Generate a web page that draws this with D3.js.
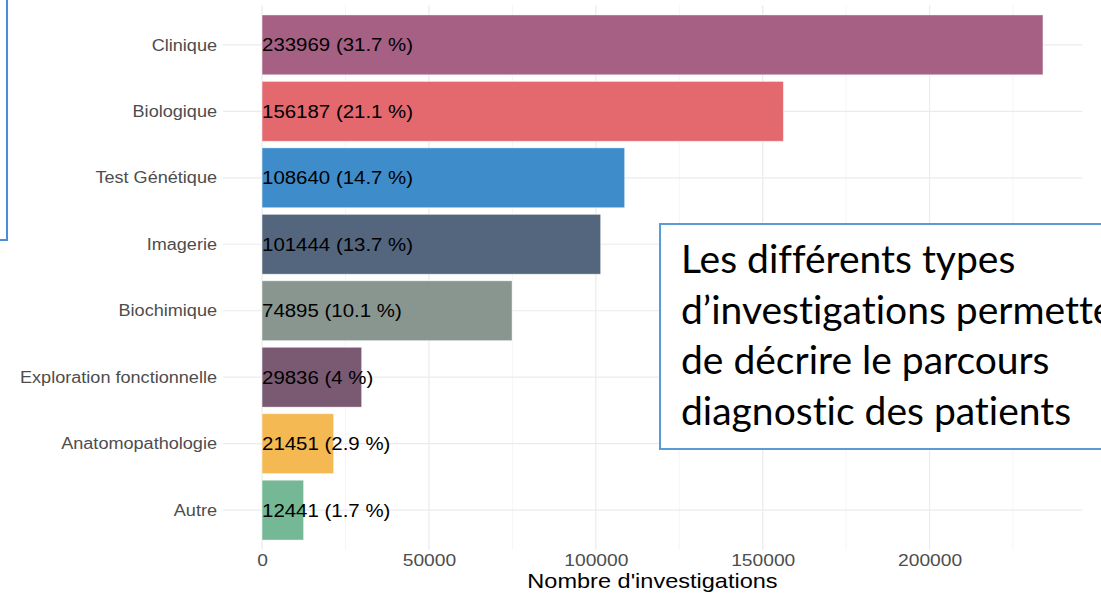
<!DOCTYPE html>
<html>
<head>
<meta charset="utf-8">
<script src="https://cdn.jsdelivr.net/npm/d3@7"></script>
<style>
  html, body { margin: 0; padding: 0; background: #fff; overflow: hidden; }
  svg { display: block; }
</style>
</head>
<body>
<div id="chart"></div>
<script>
(function() {
  'use strict';

  // Data
  var categories = ['Clinique', 'Biologique', 'Test Génétique', 'Imagerie',
    'Biochimique', 'Exploration fonctionnelle', 'Anatomopathologie', 'Autre'];
  var counts = [233969, 156187, 108640, 101444, 74895, 29836, 21451, 12441];
  var percents = ['31.7', '21.1', '14.7', '13.7', '10.1', '4', '2.9', '1.7'];
  var barColors = ['#a66084', '#e3696e', '#3f8ccb', '#53667e',
    '#88968f', '#7a5a72', '#f4b952', '#74b895'];
  var xTicks = [0, 50000, 100000, 150000, 200000];
  var xMinor = [25000, 75000, 125000, 175000, 225000];
  var noteLines = ['Les différents types', 'd\u2019investigations permettent',
    'de décrire le parcours', 'diagnostic des patients'];

  var width = 1101, height = 599;
  var panel = { left: 223, right: 1082, top: 5, bottom: 550 };
  var font = 'Liberation Sans, Arial, sans-serif';

  var svg = d3.select('#chart').append('svg')
    .attr('width', width)
    .attr('height', height);

  // the source picture is a bit stretched sideways, so widen the text the same way
  function stretch(sel, factor) {
    sel.each(function() {
      var len = this.getComputedTextLength();
      d3.select(this)
        .attr('textLength', len * factor)
        .attr('lengthAdjust', 'spacingAndGlyphs');
    });
  }

  var data = categories.map(function(c, i) {
    return { cat: c, n: counts[i], pct: percents[i], color: barColors[i] };
  });

  // ggplot-like 5% expansion on the continuous axis
  var maxVal = d3.max(counts);
  var x = d3.scaleLinear()
    .domain([-maxVal * 0.05, maxVal * 1.05])
    .range([panel.left, panel.right]);

  // discrete axis: 0.6 unit expansion on each side
  var n = categories.length;
  var step = (panel.bottom - panel.top) / (n - 1 + 1.2);
  var y = d3.scalePoint()
    .domain(categories)
    .range([panel.top + 0.6 * step, panel.bottom - 0.6 * step]);
  var barH = step * 0.9;

  var grid = svg.append('g');

  // minor vertical grid
  grid.selectAll('.vminor').data(xMinor).enter().append('line')
    .attr('x1', function(d) { return x(d); })
    .attr('x2', function(d) { return x(d); })
    .attr('y1', panel.top).attr('y2', panel.bottom)
    .attr('stroke', '#f2f2f2').attr('stroke-width', 0.8);

  // major vertical grid
  grid.selectAll('.vmajor').data(xTicks).enter().append('line')
    .attr('x1', function(d) { return x(d); })
    .attr('x2', function(d) { return x(d); })
    .attr('y1', panel.top).attr('y2', panel.bottom)
    .attr('stroke', '#ebebeb').attr('stroke-width', 1.2);

  // horizontal grid
  grid.selectAll('.hmajor').data(categories).enter().append('line')
    .attr('x1', panel.left).attr('x2', panel.right)
    .attr('y1', function(d) { return y(d); })
    .attr('y2', function(d) { return y(d); })
    .attr('stroke', '#ebebeb').attr('stroke-width', 1.2);

  // bars
  svg.selectAll('.bar').data(data).enter().append('rect')
    .attr('class', 'bar')
    .attr('x', x(0))
    .attr('y', function(d) { return y(d.cat) - barH / 2; })
    .attr('width', function(d) { return x(d.n) - x(0); })
    .attr('height', barH)
    .attr('fill', function(d) { return d.color; })
    .attr('stroke', 'rgba(255,255,255,0.5)')
    .attr('stroke-width', 0.8);

  // bar labels
  var lbl = svg.selectAll('.lbl').data(data).enter().append('text')
    .attr('x', x(0))
    .attr('y', function(d) { return y(d.cat); })
    .attr('dy', '0.36em')
    .attr('font-family', font)
    .attr('font-size', '18px')
    .attr('fill', '#000')
    .text(function(d) { return d.n + ' (' + d.pct + ' %)'; });
  stretch(lbl, 1.135);

  // y axis labels
  var yAxis = d3.axisLeft(y).tickSize(0).tickPadding(6);
  var gy = svg.append('g')
    .attr('transform', 'translate(' + panel.left + ',0)')
    .call(yAxis);
  gy.select('.domain').remove();
  gy.selectAll('text')
    .attr('font-family', font)
    .attr('font-size', '16px')
    .attr('fill', '#4d4d4d');
  stretch(gy.selectAll('text'), 1.13);

  // x axis labels
  var xAxis = d3.axisBottom(x).tickValues(xTicks).tickFormat(d3.format('d'))
    .tickSize(0).tickPadding(5);
  var gx = svg.append('g')
    .attr('transform', 'translate(0,' + panel.bottom + ')')
    .call(xAxis);
  gx.select('.domain').remove();
  gx.selectAll('text')
    .attr('font-family', font)
    .attr('font-size', '16px')
    .attr('fill', '#4d4d4d');
  stretch(gx.selectAll('text'), 1.2);

  var title = svg.append('text')
    .attr('x', (panel.left + panel.right) / 2)
    .attr('y', 588)
    .attr('text-anchor', 'middle')
    .attr('font-family', font)
    .attr('font-size', '21px')
    .attr('fill', '#000')
    .text("Nombre d'investigations");
  stretch(title, 1.12);

  // slide overlay: left box edge
  svg.append('rect')
    .attr('x', -20).attr('y', -20)
    .attr('width', 27).attr('height', 260)
    .attr('fill', 'none')
    .attr('stroke', '#4a8fd6')
    .attr('stroke-width', 2);

  // slide overlay: note box
  var note = svg.append('g');
  note.append('rect')
    .attr('x', 660).attr('y', 224)
    .attr('width', 480).attr('height', 225)
    .attr('fill', '#fff')
    .attr('stroke', '#5b9bd5')
    .attr('stroke-width', 2);
  note.selectAll('text').data(noteLines).enter().append('text')
    .attr('x', 681)
    .attr('y', function(d, i) { return 273 + i * 50.5; })
    .attr('font-family', 'Lato, Noto Sans, sans-serif')
    .attr('font-size', '39px')
    .style('font-variant-ligatures', 'none')
    .attr('fill', '#000')
    .text(function(d) { return d; });
})();
</script>
</body>
</html>
